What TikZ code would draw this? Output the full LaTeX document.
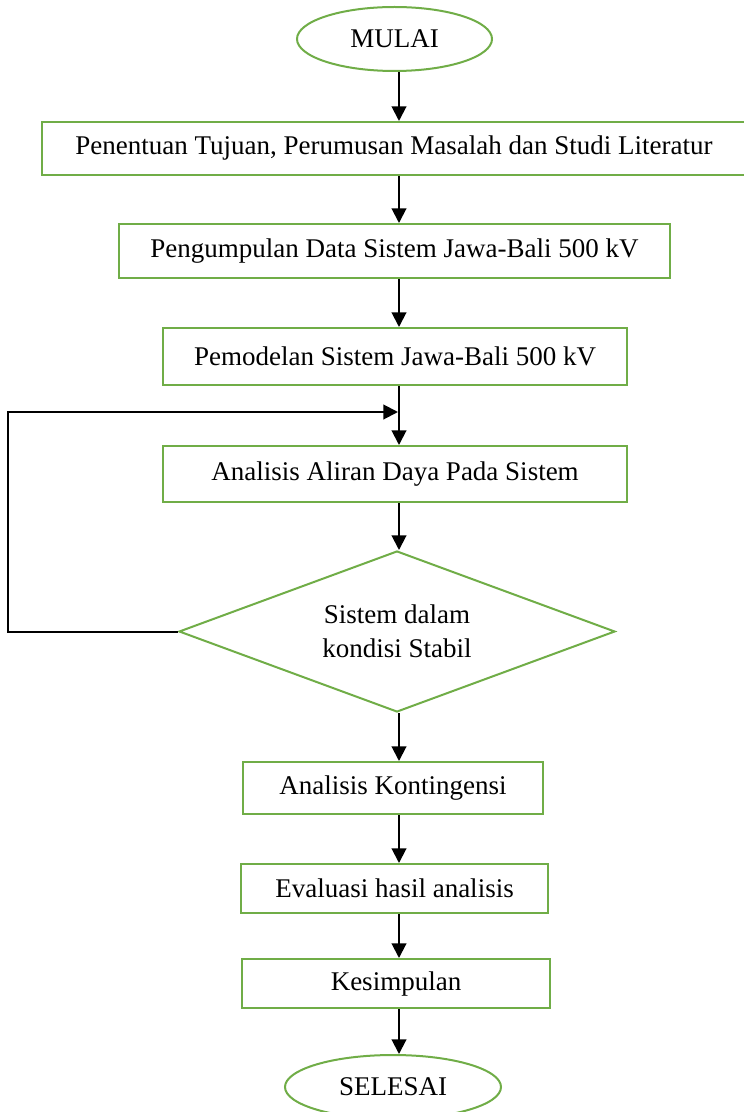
\documentclass[tikz,border=0pt]{standalone}
\usepackage{fontspec}
\setmainfont{Liberation Serif}
\usetikzlibrary{arrows.meta,shapes.geometric}
\definecolor{boxgreen}{HTML}{70AD47}
\begin{document}
\begin{tikzpicture}[x=0.75pt,y=-0.75pt,
  every node/.style={font=\fontsize{20.25}{25.5}\selectfont, text=black},
  procbox/.style={draw=boxgreen, line width=1.5pt, rectangle, inner sep=0pt, fill=white},
  terminal/.style={draw=boxgreen, line width=1.5pt, ellipse, inner sep=0pt, fill=white},
  decision/.style={draw=boxgreen, line width=1.5pt, diamond, aspect=2.7, inner sep=0pt,
    align=center, fill=white},
  flow/.style={draw=black, line width=1.5pt, -{Triangle[length=11pt,width=11pt]}}]
  \useasboundingbox (0,0) rectangle (743,1112);

  % flowchart nodes
  \node[terminal, minimum width=146.25pt, minimum height=48pt] (mulai) at (394.5,39) {MULAI};
  \node[procbox, minimum width=528pt, minimum height=39.75pt] (b1) at (394,148.5)
    {Penentuan Tujuan, Perumusan Masalah dan Studi Literatur};
  \node[procbox, minimum width=413.25pt, minimum height=40.5pt] (b2) at (394.5,251)
    {Pengumpulan Data Sistem Jawa-Bali 500 kV};
  \node[procbox, minimum width=348pt, minimum height=42.75pt] (b3) at (395,356.5)
    {Pemodelan Sistem Jawa-Bali 500 kV};
  \node[procbox, minimum width=348pt, minimum height=42pt] (b4) at (395,474)
    {Analisis Aliran Daya Pada Sistem};
  \node[decision, minimum width=327pt, minimum height=120.75pt] (dec) at (397,631.5)
    {Sistem dalam\\kondisi Stabil};
  \node[procbox, minimum width=225pt, minimum height=39pt] (b5) at (393,788)
    {Analisis Kontingensi};
  \node[procbox, minimum width=230.25pt, minimum height=36.75pt] (b6) at (394.5,888.5)
    {Evaluasi hasil analisis};
  \node[procbox, minimum width=231pt, minimum height=36.75pt] (b7) at (396,983.5)
    {Kesimpulan};
  \node[terminal, minimum width=162pt, minimum height=48pt] (selesai) at (393,1087) {SELESAI};

  % main vertical flow
  \coordinate (col) at (399,0);
  \draw[flow] (mulai.south -| col) -- (b1.north -| col);
  \draw[flow] (b1.south -| col) -- (b2.north -| col);
  \draw[flow] (b2.south -| col) -- (b3.north -| col);
  \draw[flow] (b3.south -| col) -- (b4.north -| col);
  \draw[flow] (b4.south -| col) -- (dec.north -| col);
  \draw[flow] (dec.south -| col) -- (b5.north -| col);
  \draw[flow] (b5.south -| col) -- (b6.north -| col);
  \draw[flow] (b6.south -| col) -- (b7.north -| col);
  \draw[flow] (b7.south -| col) -- (selesai.north -| col);

  % feedback loop back into the power-flow analysis
  \coordinate (loopL) at (8,412);
  \coordinate (join) at (398,412);
  \draw[flow] (dec.west) -| (loopL) -- (join);
\end{tikzpicture}
\end{document}
